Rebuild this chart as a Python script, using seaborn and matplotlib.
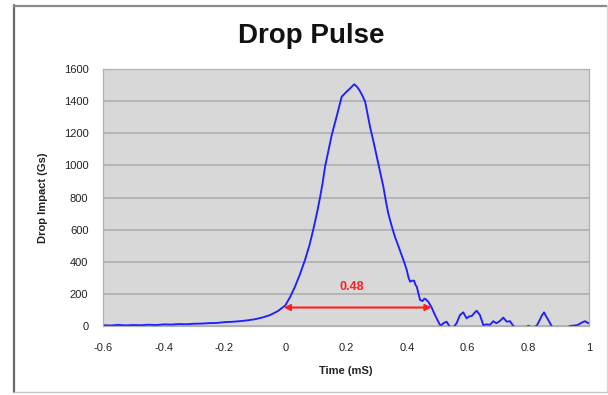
import numpy as np
import pandas as pd
import matplotlib
matplotlib.use("Agg")
import matplotlib.pyplot as plt
from matplotlib.lines import Line2D
import seaborn as sns

# ---- data ----
time_ms = [
    -0.600, -0.575, -0.550, -0.525, -0.500, -0.475, -0.450, -0.425, -0.400, -0.375,
    -0.350, -0.325, -0.300, -0.275, -0.250, -0.225, -0.200, -0.175, -0.150, -0.125,
    -0.100, -0.075, -0.050, -0.025,
    0.000, 0.016, 0.032, 0.048, 0.065, 0.080, 0.092, 0.104, 0.114, 0.123,
    0.131, 0.142, 0.153, 0.169, 0.178, 0.186, 0.195, 0.202, 0.214, 0.227,
    0.236, 0.244, 0.255, 0.263, 0.271, 0.279, 0.289, 0.299, 0.311, 0.323,
    0.331, 0.339, 0.350, 0.361, 0.372, 0.383, 0.392, 0.400, 0.406, 0.411,
    0.417, 0.424, 0.429, 0.433, 0.438, 0.444, 0.452, 0.458, 0.463, 0.472,
    0.482, 0.490, 0.499, 0.509, 0.515, 0.520, 0.531, 0.542, 0.553, 0.564,
    0.575, 0.586, 0.597, 0.606, 0.614, 0.622, 0.630, 0.641, 0.652, 0.663,
    0.674, 0.685, 0.695, 0.707, 0.718, 0.729, 0.740, 0.751, 0.765, 0.780,
    0.795, 0.800, 0.810, 0.820, 0.828, 0.836, 0.844, 0.852, 0.859, 0.866,
    0.877, 0.890, 0.905, 0.920, 0.937, 0.950, 0.960, 0.968, 0.976, 0.987,
    0.998, 1.000,
]
impact_gs = [
    5, 3, 7, 4, 6, 5, 8, 6, 10, 9,
    12, 11, 14, 15, 18, 19, 24, 26, 30, 35,
    42, 53, 68, 92,
    128, 180, 245, 320, 411, 505, 598, 700, 795, 890,
    992, 1090, 1189, 1303, 1370, 1428, 1445, 1459, 1480, 1505,
    1490, 1469, 1430, 1396, 1320, 1241, 1160, 1075, 970, 867,
    780, 702, 625, 556, 500, 442, 395, 349, 300, 276,
    282, 282, 255, 245, 205, 162, 155, 170, 166, 148,
    115, 80, 45, 8, 6, 17, 27, -5, -10, 17,
    68, 85, 48, 60, 62, 80, 95, 68, 6, 10,
    8, 30, 17, 32, 52, 27, 30, 0, -20, -25,
    -8, 2, -8, -5, 2, 30, 62, 85, 60, 37,
    0, -25, -35, -20, 0, 3, 5, 12, 21, 30,
    17, 18,
]
x_ticks = [-0.6, -0.4, -0.2, 0, 0.2, 0.4, 0.6, 0.8, 1]
x_tick_labels = ["-0.6", "-0.4", "-0.2", "0", "0.2", "0.4", "0.6", "0.8", "1"]
y_ticks = [0, 200, 400, 600, 800, 1000, 1200, 1400, 1600]
pulse_start = -0.005
pulse_end = 0.482
pulse_level = 115
pulse_label = "0.48"

df = pd.DataFrame({"Time (mS)": time_ms, "Drop Impact (Gs)": impact_gs})

sns.set_style("white")
plt.rcParams["font.family"] = ["Liberation Sans", "DejaVu Sans"]

W, H = 608, 395
fig = plt.figure(figsize=(W / 100, H / 100), dpi=100)
fig.patch.set_facecolor("white")

def px(x0, y0, x1, y1):
    return [x0 / W, 1 - y1 / H, (x1 - x0) / W, (y1 - y0) / H]

ax = fig.add_axes(px(103, 69, 589, 326))
ax.set_facecolor("#d8d8d8")

sns.lineplot(data=df, x="Time (mS)", y="Drop Impact (Gs)", ax=ax,
             color="#1f1fff", linewidth=1.35, sort=False, estimator=None)

ax.set_xlim(-0.6, 1.0)
ax.set_ylim(0, 1600)
ax.set_xticks(x_ticks)
ax.set_xticklabels(x_tick_labels)
ax.set_yticks(y_ticks)
ax.yaxis.grid(True, color="#b2b2b2", linewidth=1.3)
ax.xaxis.grid(False)
ax.set_axisbelow(True)
for s in ax.spines.values():
    s.set_color("#b0b0b0")
    s.set_linewidth(0.9)
ax.tick_params(axis="both", labelsize=8, colors="#222222", length=2.5,
               width=0.6)
ax.tick_params(axis="x", pad=10)
ax.tick_params(axis="y", pad=8)
ax.tick_params(axis="both", color="#9a9a9a")
ax.set_xlabel("Time (mS)", fontsize=8, fontweight="bold", color="#222222", labelpad=9)
ax.set_ylabel("Drop Impact (Gs)", fontsize=8, fontweight="bold", color="#222222", labelpad=11)

# pulse width arrow
ax.annotate("", xy=(pulse_end, pulse_level), xytext=(pulse_start, pulse_level),
            arrowprops=dict(arrowstyle="<|-|>", color="#ff2020", lw=1.5,
                            mutation_scale=9, shrinkA=0, shrinkB=0))
ax.text((pulse_start + pulse_end) / 2 - 0.02, 245, pulse_label, color="#ff2020",
        fontsize=9, fontweight="bold", ha="center", va="center")

fig.text(311 / W, 1 - 36 / H, "Drop Pulse", ha="center", va="center",
         fontsize=20, fontweight="bold", color="#111111")

# outer chart frame
fig.add_artist(Line2D([14 / W, 14 / W], [1 - 5 / H, 1 - 392 / H], transform=fig.transFigure,
                      color="#6a6a6a", linewidth=1.6))
fig.add_artist(Line2D([14 / W, 607 / W], [1 - 5.5 / H, 1 - 5.5 / H], transform=fig.transFigure,
                      color="#8a8a8a", linewidth=1.6))
fig.add_artist(Line2D([606.5 / W, 606.5 / W], [1 - 5 / H, 1 - 392 / H], transform=fig.transFigure,
                      color="#d8d8d8", linewidth=1.0))
fig.add_artist(Line2D([14 / W, 607 / W], [1 - 392 / H, 1 - 392 / H], transform=fig.transFigure,
                      color="#c8c8c8", linewidth=1.0))

fig.savefig("out.png", dpi=100, facecolor="white")
